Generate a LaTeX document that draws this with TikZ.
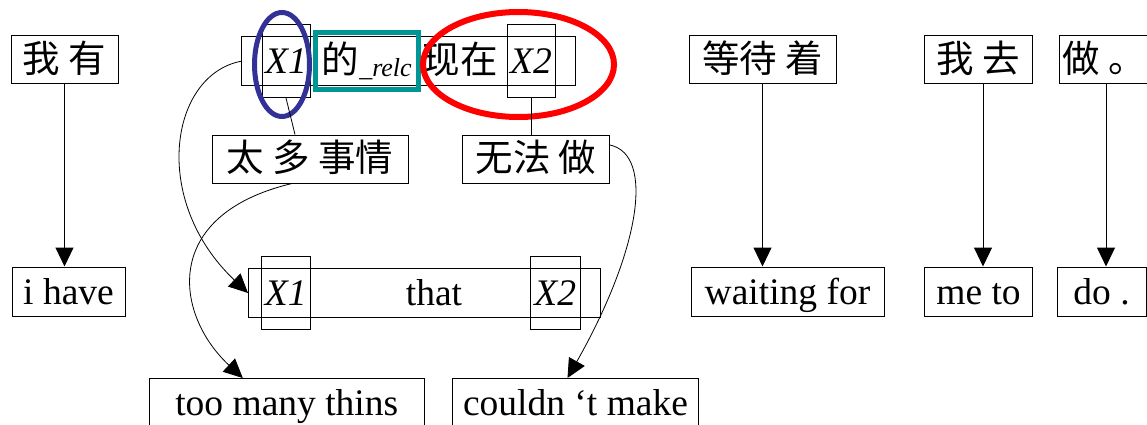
\documentclass[tikz,border=0pt]{standalone}
\usepackage{fontspec}
\setmainfont{Liberation Serif}
\newfontfamily\cjk{Noto Sans CJK SC}
\usetikzlibrary{arrows.meta,calc}
\definecolor{tealbox}{RGB}{0,150,150}
\definecolor{blueell}{RGB}{50,50,150}
\definecolor{redell}{RGB}{255,0,0}
\tikzset{
  lat/.style={font=\fontsize{37.5}{42}\selectfont},
  box/.style={draw, line width=1pt, inner sep=0pt, text height=25pt, text depth=0pt, lat},
  txt/.style={inner sep=0pt, text height=25pt, text depth=0pt, lat},
  arr/.style={-{Triangle[length=19pt,width=18pt]}, line width=1pt},
  link/.style={line width=0.8pt},
}
\begin{document}
\begin{tikzpicture}[x=1pt,y=-1pt]
\useasboundingbox (0,0) rectangle (1147,425);
% left column
\node[box, minimum width=107pt, minimum height=48pt] (wy) at (64.5,60) {\cjk 我 有};
\node[box, minimum width=113pt, minimum height=49pt] (ihave) at (68.5,291.5) {i have};
% central top phrase
\node[box, minimum width=334pt, minimum height=48.5pt] (big) at (408.5,61.25) {};
\node[box, minimum width=48pt, minimum height=73pt] (tx1) at (286,61) {\itshape X1};
\node[draw=tealbox, line width=5pt, inner sep=0pt, minimum width=102.5pt, minimum height=56.5pt, text height=25pt, text depth=0pt, lat] (rel) at (366.75,61.25) {{\cjk 的}\raisebox{-3pt}{\fontsize{26}{28}\selectfont\itshape \_relc}};
\node[txt] (xz) at (460,61) {\cjk 现在};
\node[box, minimum width=48pt, minimum height=73pt] (tx2) at (531,61) {\itshape X2};
\draw[blueell, line width=5pt] (282,64.5) ellipse [x radius=27.5, y radius=52];
\draw[redell, line width=6pt] (518.5,64.5) ellipse [x radius=95.5, y radius=52.5];
% second row
\node[box, minimum width=196pt, minimum height=48pt] (tdsq) at (310,159) {\cjk 太 多 事情};
\node[box, minimum width=147pt, minimum height=48pt] (wfz) at (536,159) {\cjk 无法 做};
\draw[link] (tx1.south) -- ($(tdsq.north)+(-15,0)$);
\draw[link] (tx2.south) -- (tx2.south |- wfz.north);
% english middle phrase
\node[box, minimum width=351.5pt, minimum height=49pt] (that) at (424.25,293) {};
\node[txt] (thattxt) at (434,293) {that};
\node[box, minimum width=49.5pt, minimum height=73.5pt] (bx1) at (285.75,292.75) {\itshape X1};
\node[box, minimum width=49.5pt, minimum height=73.5pt] (bx2) at (555.25,292.75) {\itshape X2};
% bottom row
\node[box, minimum width=274.5pt, minimum height=49pt] (tmt) at (286.75,403) {too many thins};
\node[box, minimum width=245.5pt, minimum height=49pt] (cm) at (575.5,403) {couldn ‘t make};
% curves
\draw[arr, line width=0.8pt] (big.west) .. controls (170,75) and (150,200) .. (that.west);
\draw[arr, line width=0.8pt] ($(tdsq.south)+(-18,0)$) .. controls (160,215) and (175,315) .. ($(tmt.north)+(-44,0)$);
\draw[arr, line width=0.8pt] ($(wfz.east)+(0,-14)$) .. controls (655,155) and (640,250) .. ($(cm.north)+(-8,0)$);
% right columns
\node[box, minimum width=147pt, minimum height=48pt] (ddz) at (762.5,60) {\cjk 等待 着};
\node[box, minimum width=193pt, minimum height=49pt] (wf) at (787.5,291.5) {waiting for};
\node[box, minimum width=108pt, minimum height=48pt] (wq) at (978.5,60) {\cjk 我 去};
\node[box, minimum width=108pt, minimum height=49pt] (meto) at (978.5,291.5) {me to};
\node[box, minimum width=91pt, minimum height=48pt] (zuo) at (1104.5,60) {\cjk 做 。};
\node[box, minimum width=89pt, minimum height=49pt] (do) at (1101.5,291.5) {do .};
% straight arrows
\draw[arr] (wy.south) -- (wy.south |- ihave.north);
\draw[arr] (ddz.south) -- (ddz.south |- wf.north);
\draw[arr] ($(wq.south)+(4.5,0)$) -- ($(wq.south |- meto.north)+(4.5,0)$);
\draw[arr] ($(zuo.south)+(1.5,0)$) -- ($(zuo.south |- do.north)+(1.5,0)$);
\end{tikzpicture}
\end{document}
